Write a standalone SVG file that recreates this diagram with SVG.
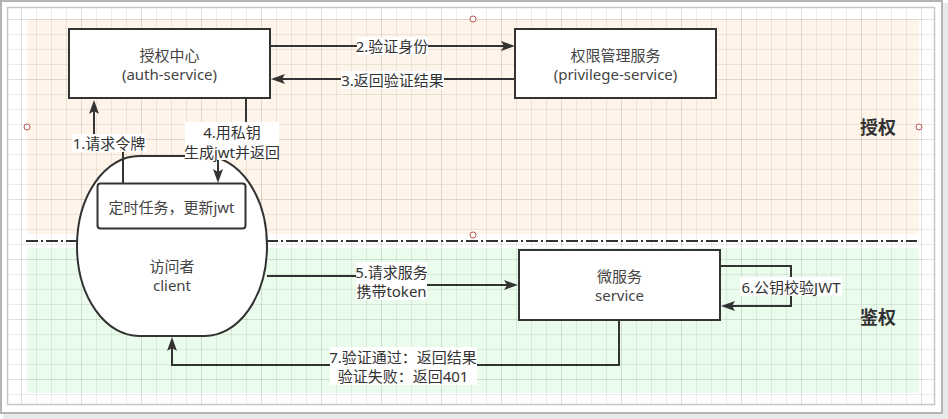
<svg xmlns="http://www.w3.org/2000/svg" width="948" height="419" viewBox="0 0 948 419">
  <style>
    text { font-family: "Noto Sans", "Noto Sans CJK SC", sans-serif; }
    .node { fill: #ffffff; stroke: #333333; stroke-width: 2; }
    .ntext { font-size: 15px; fill: #444444; text-anchor: middle; dominant-baseline: central; }
    .edge { fill: none; stroke: #333333; stroke-width: 2; marker-end: url(#arrow); }
    .plain { fill: none; stroke: #333333; stroke-width: 2; }
    .lbg { fill: #ffffff; }
    .etext { font-size: 15px; fill: #333333; text-anchor: middle; dominant-baseline: central; }
    .zone { font-size: 18px; font-weight: bold; fill: #333333; text-anchor: middle; dominant-baseline: central; }
    .pt { fill: #ffffff; stroke: #b85450; stroke-width: 1; }
  </style>
  <defs>
    <marker id="arrow" markerUnits="userSpaceOnUse" viewBox="0 0 14 10" refX="4" refY="5" markerWidth="14" markerHeight="10" orient="auto">
      <path d="M0,0 L14,5 L0,10 L3,5 Z" fill="#333333"/>
    </marker>
    <pattern id="grid" patternUnits="userSpaceOnUse" x="21" y="19" width="60" height="60">
      <path d="M15.5,0 V60 M30.5,0 V60 M45.5,0 V60 M0,15.5 H60 M0,30.5 H60 M0,45.5 H60" stroke="#000000" stroke-opacity="0.075" stroke-width="1"/>
      <path d="M0.5,0 V60 M0,0.5 H60" stroke="#000000" stroke-opacity="0.12" stroke-width="1"/>
    </pattern>
  </defs>

  <!-- page frame with soft shadow -->
  <rect x="3" y="3" width="945" height="416" fill="#e9e9e9"/>
  <rect x="1" y="1" width="941" height="412" fill="#ffffff" stroke="#b4b4b4" stroke-width="2"/>
  <rect x="7.5" y="7.5" width="927" height="397" fill="#ffffff" stroke="#c6c6c6" stroke-width="1.5"/>

  <!-- zones -->
  <g id="zone-auth">
    <rect x="27" y="19" width="892" height="215" rx="4" fill="#fff4e9"/>
  </g>
  <g id="zone-verify">
    <rect x="27" y="248" width="892" height="145" rx="4" fill="#eafceb"/>
  </g>

  <!-- grid -->
  <rect x="8.5" y="8.5" width="926" height="396" fill="url(#grid)"/>

  <!-- zone connection points -->
  <circle class="pt" cx="473" cy="19" r="3"/>
  <circle class="pt" cx="27" cy="127" r="3"/>
  <circle class="pt" cx="919" cy="127" r="3"/>
  <circle class="pt" cx="473" cy="235" r="3"/>

  <!-- divider -->
  <line x1="26" y1="241" x2="917" y2="241" stroke="#333333" stroke-width="2" stroke-dasharray="12 3 2 3"/>

  <!-- zone titles -->
  <text class="zone" x="878" y="127">授权</text>
  <text class="zone" x="878" y="317">鉴权</text>

  <!-- nodes -->
  <g id="auth-service">
    <rect class="node" x="69" y="29" width="201" height="69"/>
    <text class="ntext" x="169.5" y="55">授权中心</text>
    <text class="ntext" x="169.5" y="74">(auth-service)</text>
  </g>
  <g id="privilege-service">
    <rect class="node" x="515" y="29" width="201" height="69"/>
    <text class="ntext" x="615.5" y="55">权限管理服务</text>
    <text class="ntext" x="615.5" y="74">(privilege-service)</text>
  </g>
  <g id="client">
    <rect class="node" x="77" y="156" width="190" height="180" rx="62" ry="90"/>
    <text class="ntext" x="172" y="266">访问者</text>
    <text class="ntext" x="172" y="285">client</text>
  </g>
  <g id="refresh-task">
    <rect class="node" x="97.5" y="183.5" width="148" height="45" rx="3"/>
    <text class="ntext" x="171.5" y="207">定时任务，更新jwt</text>
  </g>
  <g id="service">
    <rect class="node" x="519" y="250" width="201" height="70"/>
    <text class="ntext" x="619.5" y="276">微服务</text>
    <text class="ntext" x="619.5" y="295">service</text>
  </g>

  <!-- connectors -->
  <g id="connectors">
    <path class="edge" d="M123,183 V142 H94 V110"/>
    <path class="edge" d="M271,46 H505"/>
    <path class="edge" d="M515,79 H281"/>
    <path class="edge" d="M246,99 V142 H218 V173"/>
    <path class="edge" d="M267,276 H392 V285 H508"/>
    <path class="edge" d="M721,266 H791 V306 H731"/>
    <path class="edge" d="M619,321 V365 H172 V347"/>

    <rect class="lbg" x="72" y="134" width="74" height="18"/>
    <text class="etext" x="109" y="143">1.请求令牌</text>

    <rect class="lbg" x="357" y="37" width="71" height="18"/>
    <text class="etext" x="392" y="46">2.验证身份</text>

    <rect class="lbg" x="341" y="71" width="103" height="18"/>
    <text class="etext" x="392.5" y="80">3.返回验证结果</text>

    <rect class="lbg" x="185" y="122" width="94" height="38"/>
    <text class="etext" x="232" y="132">4.用私钥</text>
    <text class="etext" x="232" y="152">生成jwt并返回</text>

    <rect class="lbg" x="356" y="262" width="71" height="38"/>
    <text class="etext" x="391.5" y="272">5.请求服务</text>
    <text class="etext" x="391.5" y="291">携带token</text>

    <rect class="lbg" x="740" y="277" width="102" height="19"/>
    <text class="etext" x="791" y="287">6.公钥校验JWT</text>

    <rect class="lbg" x="330" y="347" width="147" height="38"/>
    <text class="etext" x="403" y="357">7.验证通过：返回结果</text>
    <text class="etext" x="403" y="376">验证失败：返回401</text>
  </g>
</svg>
